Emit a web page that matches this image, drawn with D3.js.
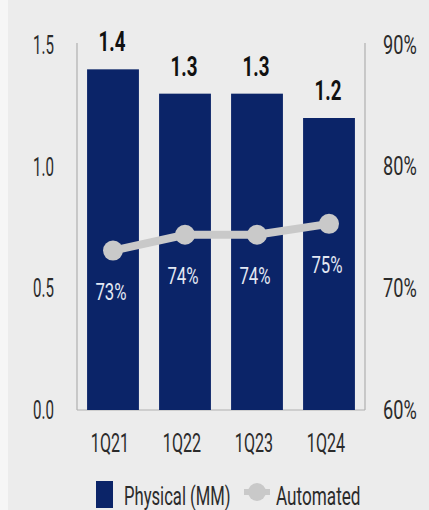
<!DOCTYPE html>
<html><head><meta charset="utf-8">
<script src="https://cdn.jsdelivr.net/npm/d3@7"></script>
<style>
body{margin:0;background:#ececec;}
svg{display:block;}
text{font-family:Roboto,"Liberation Sans",sans-serif;}
</style></head><body>
<svg id="c" width="429" height="510"></svg>
<script>
const categories = ["1Q21","1Q22","1Q23","1Q24"];
const physical = [1.4,1.3,1.3,1.2];
const physicalLabels = ["1.4","1.3","1.3","1.2"];
const automated = [73.1,74.4,74.4,75.3];
const automatedLabels = ["73%","74%","74%","75%"];
const leftTicks = [0,0.5,1.0,1.5];
const rightTicks = [60,70,80,90];
const legendLabels = ["Physical (MM)","Automated"];

(function(){
const svg = d3.select("#c");
svg.append("rect").attr("width",429).attr("height",510).attr("fill","#ececec");
svg.append("rect").attr("width",8).attr("height",510).attr("fill","#f6f6f6");

const pL=77, pR=365, pT=45, pB=410;
const x = d3.scaleBand().domain(categories).range([pL,pR]).paddingInner(0.28).paddingOuter(0.14);
const yL = d3.scaleLinear().domain([0,1.5]).range([pB,pT]);
const yR = d3.scaleLinear().domain([60,90]).range([pB,pT]);
const navy="#0b2468", grey="#c9c9c9", ink="#2b2b2b", frame="#b0b0b0";

function label(parent, px, py, txt, o){
  const g = parent.append("g").attr("transform",`translate(${px},${py}) scale(${o.sx},1)`);
  g.append("text").attr("text-anchor",o.anchor||"middle").attr("font-size",o.size)
    .attr("font-weight",o.weight||"normal").attr("fill",o.fill||ink).text(txt);
  return g;
}

svg.append("line").attr("x1",pL).attr("x2",pL).attr("y1",pT-2).attr("y2",pB).attr("stroke",frame).attr("stroke-width",1.2);
svg.append("line").attr("x1",pR).attr("x2",pR).attr("y1",pT-2).attr("y2",pB).attr("stroke",frame).attr("stroke-width",1.2);
svg.append("line").attr("x1",pL).attr("x2",pR).attr("y1",pB).attr("y2",pB).attr("stroke",frame).attr("stroke-width",1.2);

svg.selectAll("rect.bar").data(physical).join("rect").attr("class","bar")
  .attr("x",(d,i)=>x(categories[i])).attr("width",x.bandwidth())
  .attr("y",d=>yL(d)).attr("height",d=>yL(0)-yL(d)).attr("fill",navy);

const cx=(d,i)=>x(categories[i])+x.bandwidth()/2;
physical.forEach((d,i)=>label(svg, cx(d,i)-1, yL(d)-18, physicalLabels[i], {size:28, weight:"bold", sx:0.67, fill:"#111"}));

svg.append("path").datum(automated)
  .attr("d",d3.line().x(cx).y(d=>yR(d)))
  .attr("fill","none").attr("stroke",grey).attr("stroke-width",8);
svg.selectAll("circle.pt").data(automated).join("circle").attr("class","pt")
  .attr("cx",cx).attr("cy",d=>yR(d)).attr("r",10).attr("fill",grey);
automated.forEach((d,i)=>label(svg, cx(d,i)-2, yR(d)+49, automatedLabels[i], {size:23, sx:0.73, fill:"#e3e8f3"}));

const gL = svg.append("g").attr("transform",`translate(54,0)`)
  .call(d3.axisLeft(yL).tickValues(leftTicks).tickFormat(d3.format(".1f")).tickSize(0).tickPadding(0));
const gR = svg.append("g").attr("transform",`translate(383,0)`)
  .call(d3.axisRight(yR).tickValues(rightTicks).tickFormat(d=>d+"%").tickSize(0).tickPadding(0));
const gX = svg.append("g").attr("transform",`translate(-3,433)`)
  .call(d3.axisBottom(x).tickSize(0).tickPadding(0));
[gL,gR,gX].forEach(g=>{g.select(".domain").remove();
  g.selectAll("text").attr("font-size",26).attr("fill",ink).attr("font-family",null);});
gL.selectAll("text").attr("transform","scale(0.58,1)");
gR.selectAll("text").attr("transform","scale(0.70,1)");
gX.selectAll("text").attr("transform","scale(0.62,1)").attr("dy","0.72em");

const lg = svg.append("g");
lg.append("rect").attr("x",96).attr("y",481).attr("width",17).attr("height",27).attr("fill",navy);
label(lg, 124, 505, legendLabels[0], {size:26, sx:0.64, anchor:"start"});
lg.append("line").attr("x1",244).attr("x2",270).attr("y1",492).attr("y2",492).attr("stroke",grey).attr("stroke-width",6);
lg.append("circle").attr("cx",257).attr("cy",492).attr("r",9).attr("fill",grey);
label(lg, 276, 505, legendLabels[1], {size:26, sx:0.66, anchor:"start"});
})();
</script></body></html>
